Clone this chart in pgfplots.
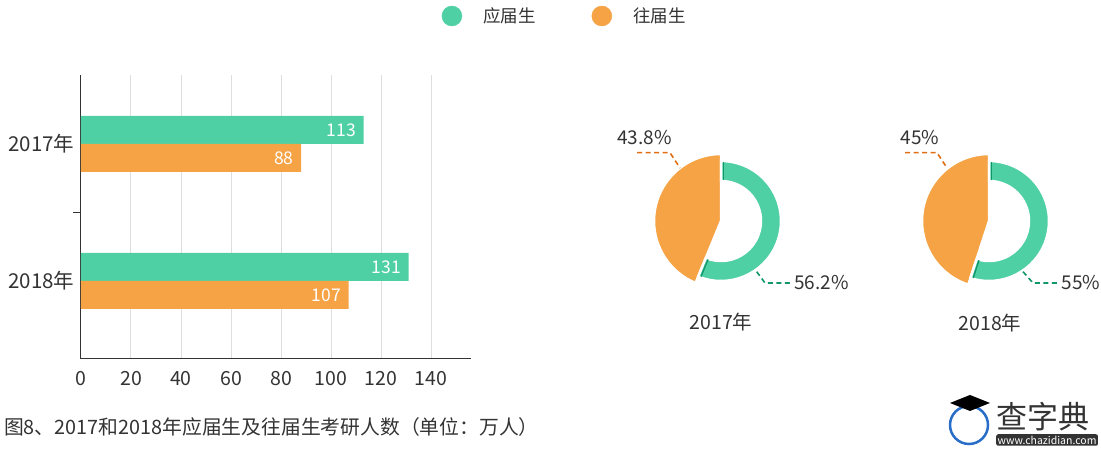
\documentclass[border=0pt]{standalone}
\usepackage{fontspec}
\setmainfont{Noto Sans CJK SC}
\usepackage{pgfplots}
\pgfplotsset{compat=1.18}
\definecolor{gr}{RGB}{79,208,164}
\definecolor{org}{RGB}{245,163,69}
\definecolor{dgr}{RGB}{16,150,105}
\definecolor{dorg}{RGB}{224,110,20}
\definecolor{txt}{RGB}{51,51,51}
\definecolor{axisc}{RGB}{51,51,51}
\definecolor{gridc}{RGB}{222,222,222}
\definecolor{logoblue}{RGB}{40,110,200}
\newcommand{\fs}[1]{\fontsize{#1}{#1}\selectfont}
% pie data (percent)
\def\oSeven{43.8}\def\gSeven{56.2}
\def\oEight{45}\def\gEight{55}
\begin{document}
\begin{tikzpicture}
\useasboundingbox (0,0) rectangle (1101pt,449pt);
\pgfmathsetmacro{\aSeven}{90+\oSeven*3.6}
\pgfmathsetmacro{\aEight}{90+\oEight*3.6}
% ---------------- bar chart ----------------
\begin{axis}[
  at={(81pt,90pt)}, anchor=south west,
  scale only axis, width=390pt, height=284pt,
  xmin=0, xmax=156, ymin=-0.5693, ymax=1.5036,
  axis x line*=bottom, axis y line*=left,
  axis line style={-, draw=axisc, line width=1pt},
  xtick={0,20,...,140}, ytick={0,1}, yticklabels={2018年,2017年},
  major tick length=0pt,
  xmajorgrids, grid style={draw=gridc, line width=1pt},
  extra y ticks={0.5}, extra y tick labels={},
  extra y tick style={major tick length=8pt, tick align=outside, grid=none},
  tick style={draw=axisc, line width=1pt},
  ticklabel style={font=\fs{19.5}, text=txt},
  xticklabel style={yshift=-9pt},
  yticklabel style={xshift=-3pt, font=\fs{20.5}},
  /pgf/number format/assume math mode=true,
  clip=false,
  legend columns=2,
  legend cell align=left,
  legend style={at={(axis description cs:0.9249,1.2077)}, anchor=west,
    draw=none, fill=none, inner sep=0pt, outer sep=0pt,
    font=\fs{17.5}, text=txt,
    /tikz/every odd column/.append style={column sep=19pt},
    /tikz/every even column/.append style={column sep=54pt}},
]
\addplot[xbar, bar width=28pt, bar shift=14pt, fill=gr, draw=none, forget plot,
  point meta=x, nodes near coords,
  every node near coord/.append style={anchor=east, xshift=-4pt, yshift=14pt, text=white, font=\fs{17.5}}]
  coordinates {(113,1) (131,0)};
\addplot[xbar, bar width=28pt, bar shift=-14pt, fill=org, draw=none, forget plot,
  point meta=x, nodes near coords,
  every node near coord/.append style={anchor=east, xshift=-4pt, yshift=-14pt, text=white, font=\fs{17.5}}]
  coordinates {(88,1) (107,0)};
\addlegendimage{legend image code/.code={\fill[gr] (10pt,0pt) circle (10pt);}}
\addlegendentry{应届生}
\addlegendimage{legend image code/.code={\fill[org] (10pt,0pt) circle (10pt);}}
\addlegendentry{往届生}
\end{axis}
% ---------------- pie 2017 ----------------
\begin{axis}[at={(721pt,228pt)}, anchor=center, hide axis, scale only axis,
  width=200pt, height=200pt, xmin=-100, xmax=100, ymin=-100, ymax=100, clip=false]
\addplot[draw=none] coordinates {(0,0)};
\begin{scope}[shift={(axis cs:0,0)}]
  \fill[org, draw=white, line width=2.5pt] (0pt,0pt) -- (90:67pt) arc[start angle=90, end angle=\aSeven, radius=67pt] -- cycle;
  \fill[gr, draw=white, line width=2.5pt] (\aSeven:60pt) arc[start angle=\aSeven, end angle=450, radius=60pt] -- (90:40pt) arc[start angle=450, end angle=\aSeven, radius=40pt] -- cycle;
  \draw[dgr, line width=1.3pt] (2.6pt,40.5pt) -- (2.6pt,59pt);
  \draw[dgr, line width=1.3pt, rotate=\aSeven] (40.5pt,2.6pt) -- (59pt,2.6pt);
  \draw[dorg, line width=1.6pt, dash pattern=on 5pt off 3.5pt] (-84pt,68.3pt) -- (-51pt,68.3pt) -- (-41pt,53pt);
  \draw[dgr, line width=1.6pt, dash pattern=on 5pt off 3.5pt] (35.7pt,-50.7pt) -- (44pt,-62pt) -- (69pt,-62pt);
  \node[anchor=west, inner sep=0pt, text=txt, font=\fs{19}] at (-104pt,83.5pt) {43.8\%};
  \node[anchor=west, inner sep=0pt, text=txt, font=\fs{19}] at (73pt,-62pt) {56.2\%};
  \node[inner sep=0pt, text=txt, font=\fs{19.5}] at (0pt,-101.5pt) {2017年};
\end{scope}
\end{axis}
% ---------------- pie 2018 ----------------
\begin{axis}[at={(989pt,228pt)}, anchor=center, hide axis, scale only axis,
  width=200pt, height=200pt, xmin=-100, xmax=100, ymin=-100, ymax=100, clip=false]
\addplot[draw=none] coordinates {(0,0)};
\begin{scope}[shift={(axis cs:0,0)}]
  \fill[org, draw=white, line width=2.5pt] (0pt,0pt) -- (90:67pt) arc[start angle=90, end angle=\aEight, radius=67pt] -- cycle;
  \fill[gr, draw=white, line width=2.5pt] (\aEight:60pt) arc[start angle=\aEight, end angle=450, radius=60pt] -- (90:40pt) arc[start angle=450, end angle=\aEight, radius=40pt] -- cycle;
  \draw[dgr, line width=1.3pt] (2.6pt,40.5pt) -- (2.6pt,59pt);
  \draw[dgr, line width=1.3pt, rotate=\aEight] (40.5pt,2.6pt) -- (59pt,2.6pt);
  \draw[dorg, line width=1.6pt, dash pattern=on 5pt off 3.5pt] (-84pt,68.3pt) -- (-52pt,68.3pt) -- (-42pt,53pt);
  \draw[dgr, line width=1.6pt, dash pattern=on 5pt off 3.5pt] (34pt,-50.7pt) -- (44pt,-62pt) -- (69pt,-62pt);
  \node[anchor=west, inner sep=0pt, text=txt, font=\fs{19}] at (-88.3pt,83.5pt) {45\%};
  \node[anchor=west, inner sep=0pt, text=txt, font=\fs{19}] at (72.7pt,-62pt) {55\%};
  \node[inner sep=0pt, text=txt, font=\fs{19.5}] at (1pt,-102pt) {2018年};
\end{scope}
\end{axis}
% ---------------- caption ----------------
\node[anchor=west, inner sep=0pt, text=txt, font=\fs{19.8}] at (4pt,22pt) {图8、2017和2018年应届生及往届生考研人数（单位：万人）};
% ---------------- watermark logo ----------------
\draw[logoblue, line width=2.5pt] (969pt,24pt) circle (19pt);
\fill[black] (950pt,46pt) -- (970pt,54pt) -- (990pt,46pt) -- (970pt,38pt) -- cycle;
\node[anchor=west, inner sep=0pt, text=txt, font=\fs{31}] at (996pt,32pt) {查字典};
\node[anchor=west, fill=txt, text=white, rounded corners=2pt, inner sep=1.5pt, font=\fs{10.5}] at (996pt,9pt) {www.chazidian.com};
\end{tikzpicture}
\end{document}
